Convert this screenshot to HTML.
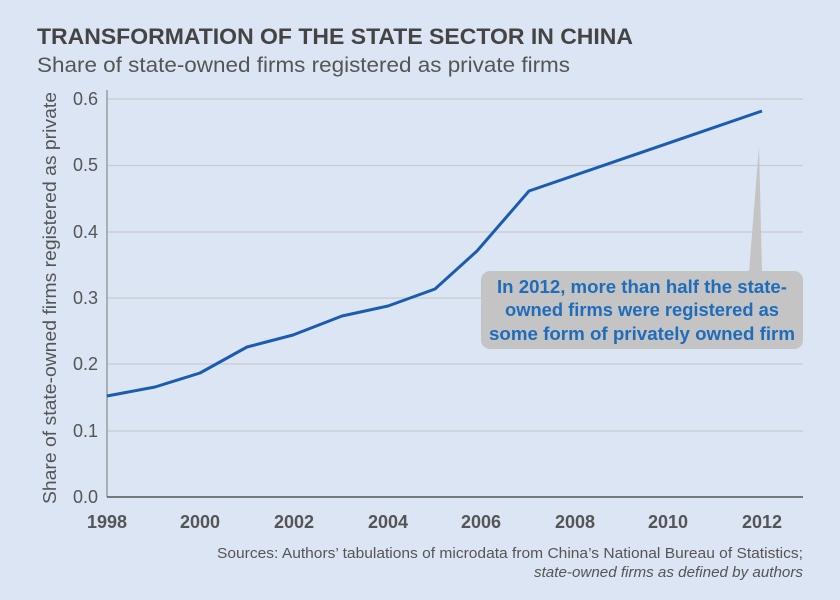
<!DOCTYPE html>
<html><head><meta charset="utf-8"><style>
html,body{margin:0;padding:0;background:#dce5f3;}
svg{display:block;}
text{font-family:"Liberation Sans",sans-serif;}
</style></head><body>
<svg width="840" height="600" viewBox="0 0 840 600" xmlns="http://www.w3.org/2000/svg">
<rect width="840" height="600" fill="#dce5f3"/>
<text x="37" y="44" font-size="22" font-weight="bold" fill="#444" textLength="596" lengthAdjust="spacingAndGlyphs">TRANSFORMATION OF THE STATE SECTOR IN CHINA</text>
<text x="37" y="72" font-size="21" fill="#555" textLength="533" lengthAdjust="spacingAndGlyphs">Share of state-owned firms registered as private firms</text>
<g stroke="#c9cbd0" stroke-width="1.3">
<line x1="107" y1="99" x2="803" y2="99"/>
<line x1="107" y1="165.5" x2="803" y2="165.5"/>
<line x1="107" y1="232" x2="803" y2="232"/>
<line x1="107" y1="298" x2="803" y2="298"/>
<line x1="107" y1="364" x2="803" y2="364"/>
<line x1="107" y1="431" x2="803" y2="431"/>
</g>
<line x1="107" y1="90" x2="107" y2="497" stroke="#9a9ca0" stroke-width="1.5"/>
<line x1="107" y1="497" x2="803" y2="497" stroke="#555" stroke-width="1.5"/>
<g font-size="18" fill="#555" text-anchor="end">
<text x="98" y="105">0.6</text>
<text x="98" y="171">0.5</text>
<text x="98" y="238">0.4</text>
<text x="98" y="304">0.3</text>
<text x="98" y="370">0.2</text>
<text x="98" y="437">0.1</text>
<text x="98" y="503">0.0</text>
</g>
<text transform="translate(56,298) rotate(-90)" font-size="18.5" fill="#555" text-anchor="middle" textLength="412" lengthAdjust="spacingAndGlyphs">Share of state-owned firms registered as private</text>
<g font-size="18" fill="#555" text-anchor="middle" font-weight="bold">
<text x="107" y="528">1998</text>
<text x="200" y="528">2000</text>
<text x="294" y="528">2002</text>
<text x="388" y="528">2004</text>
<text x="481" y="528">2006</text>
<text x="575" y="528">2008</text>
<text x="668" y="528">2010</text>
<text x="762" y="528">2012</text>
</g>
<polyline fill="none" stroke="#1a5cb0" stroke-width="3" stroke-linejoin="round" points="107,396 155,387 200,373 247,347 293,335 342,316 388,306 435,289 477,251 529,191 762,111"/>
<polygon points="759,146 749,272 762,272" fill="#c4c4c4"/>
<rect x="481" y="271" width="322" height="78" rx="9" fill="#c4c4c4"/>
<g font-size="18.5" font-weight="bold" fill="#1f6cbb" text-anchor="middle">
<text x="642" y="293" textLength="290" lengthAdjust="spacingAndGlyphs">In 2012, more than half the state-</text>
<text x="642" y="316" textLength="274" lengthAdjust="spacingAndGlyphs">owned firms were registered as</text>
<text x="642" y="340" textLength="306" lengthAdjust="spacingAndGlyphs">some form of privately owned firm</text>
</g>
<text x="803" y="558" font-size="15" fill="#555" text-anchor="end" textLength="586" lengthAdjust="spacingAndGlyphs">Sources: Authors’ tabulations of microdata from China’s National Bureau of Statistics;</text>
<text x="803" y="577" font-size="15" font-style="italic" fill="#555" text-anchor="end" textLength="269" lengthAdjust="spacingAndGlyphs">state-owned firms as defined by authors</text>
</svg>
</body></html>
